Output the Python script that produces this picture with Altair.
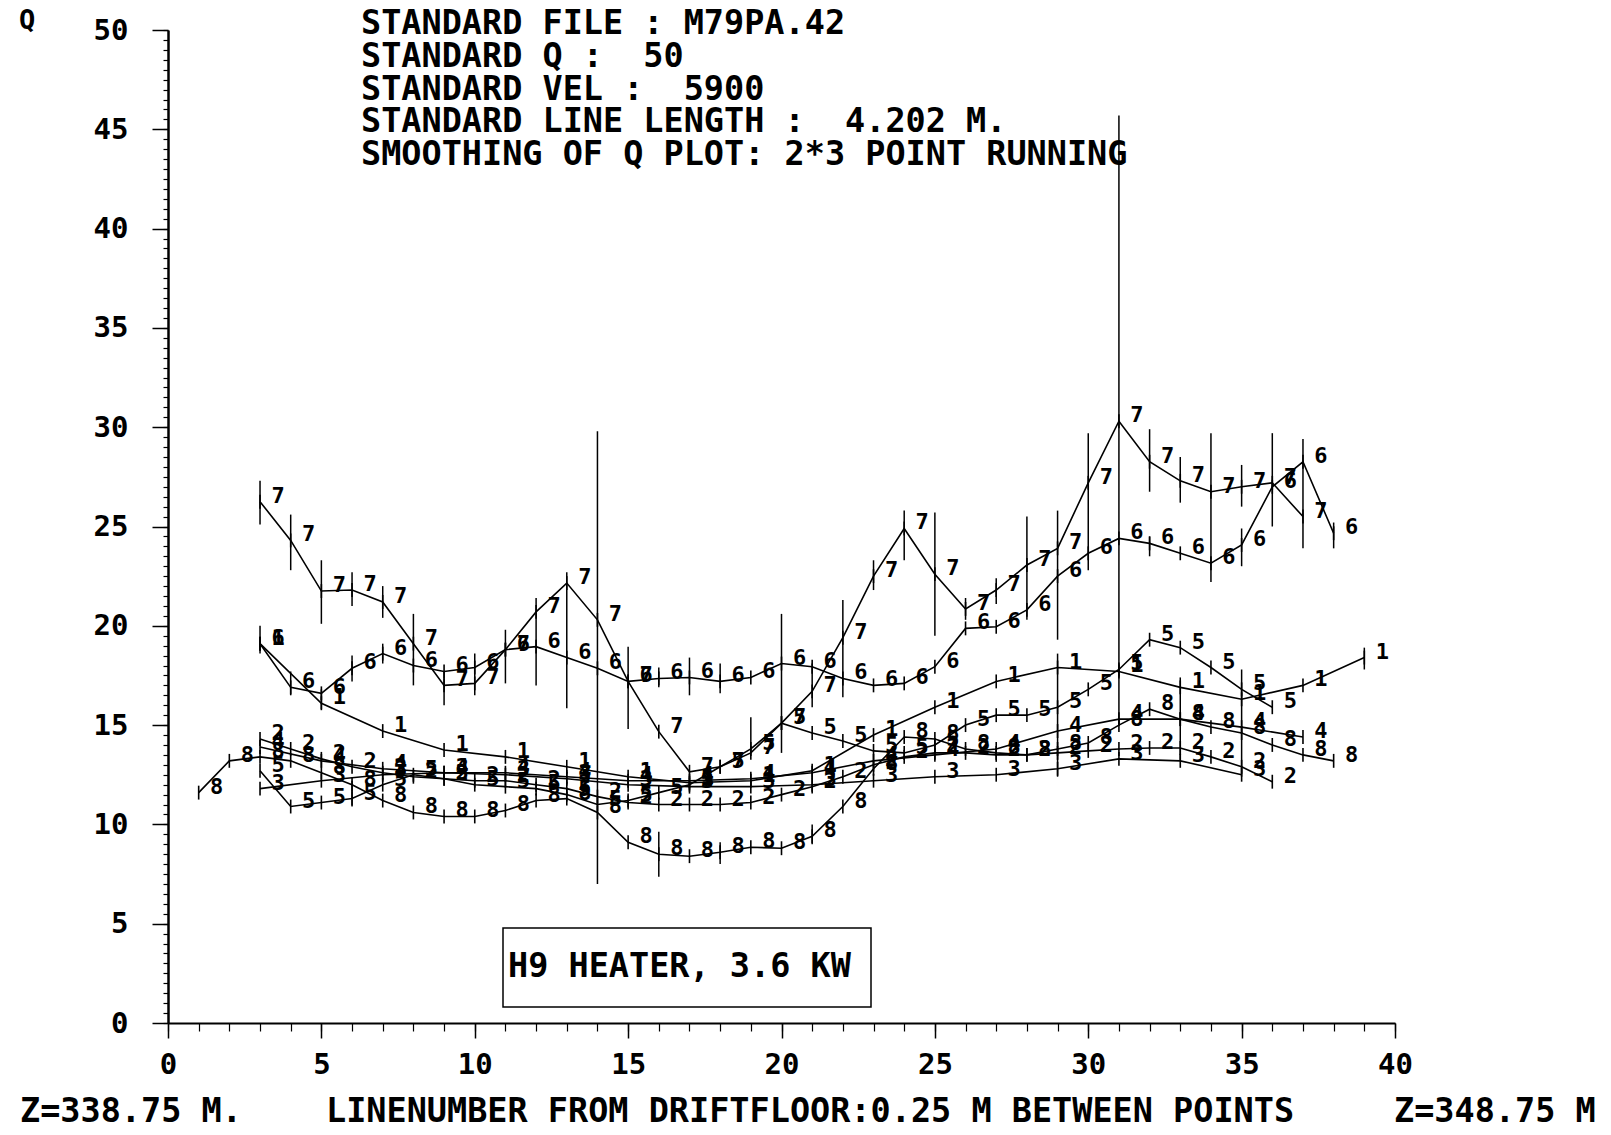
import altair as alt
import pandas as pd

FONT = "DejaVu Sans Mono"

# ---- series data (line number vs Q) ----
x1 = [3, 5, 7, 9, 11, 13, 15, 17, 19, 21, 23, 25, 27, 29, 31, 33, 35, 37, 39]
q1 = [19.1, 16.1, 14.7, 13.75, 13.4, 12.9, 12.4, 12.1, 12.2, 12.7, 14.5, 15.9, 17.2, 17.9, 17.7, 16.9, 16.3, 17.0, 18.4]

x2 = list(range(3, 37))
q2 = [14.3, 13.8, 13.3, 12.9, 12.6, 12.4, 12.3, 12.2, 12.2, 12.0, 11.8, 11.4, 11.1, 11.0, 11.0, 11.0, 11.1,
      11.5, 11.9, 12.4, 13.0, 13.4, 13.6, 13.6, 13.5, 13.5, 13.6, 13.7, 13.8, 13.85, 13.85, 13.4, 12.9, 12.15]

x3 = [3, 5, 7, 9, 11, 13, 15, 17, 19, 21, 23, 25, 27, 29, 31, 33, 35]
q3 = [11.8, 12.2, 12.5, 12.6, 12.5, 12.3, 12.0, 11.9, 11.9, 12.0, 12.2, 12.4, 12.5, 12.8, 13.3, 13.2, 12.5]

x4 = [3, 5, 7, 9, 11, 13, 15, 17, 19, 21, 23, 25, 27, 29, 31, 33, 35, 37]
q4 = [13.9, 13.2, 12.8, 12.6, 12.6, 12.4, 12.2, 12.2, 12.3, 12.6, 13.2, 13.5, 13.8, 14.7, 15.3, 15.3, 14.9, 14.4]

x5 = list(range(3, 37))
q5 = [12.7, 10.9, 11.1, 11.3, 12.0, 12.5, 12.3, 12.0, 11.9, 11.8, 11.5, 11.0, 11.2, 11.6, 12.0, 12.9, 13.8,
      15.1, 14.6, 14.2, 13.7, 13.6, 14.0, 15.0, 15.5, 15.5, 15.9, 16.8, 17.8, 19.3, 18.9, 17.9, 16.8, 15.9]

x6 = list(range(3, 39))
q6 = [19.1, 16.9, 16.6, 17.86, 18.6, 18.0, 17.7, 17.9, 18.8, 18.95, 18.4, 17.86, 17.2, 17.35, 17.4, 17.2,
      17.4, 18.1, 17.94, 17.35, 17.0, 17.1, 17.94, 19.87, 19.95, 20.8, 22.5, 23.65, 24.4, 24.15, 23.65,
      23.15, 24.07, 27.0, 28.26, 24.66]

x7 = list(range(3, 38))
q7 = [26.25, 24.3, 21.75, 21.8, 21.2, 19.1, 17.0, 17.1, 18.8, 20.7, 22.15, 20.3, 17.2, 14.67, 12.65, 12.9,
      13.6, 15.1, 16.7, 19.4, 22.5, 24.9, 22.6, 20.85, 21.8, 23.06, 23.9, 27.2, 30.3, 28.26, 27.3, 26.75,
      27.0, 27.2, 25.5]

x8 = list(range(1, 39))
q8 = [11.6, 13.2, 13.4, 13.2, 12.6, 12.0, 11.2, 10.6, 10.4, 10.4, 10.7, 11.2, 11.3, 10.6, 9.1, 8.5, 8.4,
      8.6, 8.85, 8.8, 9.4, 10.9, 12.8, 14.4, 14.3, 13.8, 13.6, 13.5, 13.8, 14.1, 15.0, 15.8, 15.3, 14.9,
      14.6, 14.0, 13.5, 13.2]

series_names = ["1", "2", "3", "4", "5", "6", "7", "8"]
series_x = [x1, x2, x3, x4, x5, x6, x7, x8]
series_q = [q1, q2, q3, q4, q5, q6, q7, q8]

# ---- error bars (line number, low Q, high Q) ----
eb_x = [3, 4, 5, 6, 7, 8, 9, 10, 11, 12, 13, 14, 15, 16, 17, 18, 19, 20, 21, 22, 23, 24, 25, 26, 27, 28,
        29, 30, 31, 32, 33, 34, 35, 36, 37, 38,
        3, 4, 5, 6, 7, 32, 35,
        16, 18, 21, 39, 6, 29, 33, 35]
eb_lo = [25.1, 22.8, 20.1, 21.0, 20.4, 17.0, 16.0, 16.5, 17.1, 17.0, 15.85, 7.0, 14.8, 16.9, 16.5, 16.6,
         13.6, 13.6, 15.9, 16.4, 21.8, 23.3, 19.5, 20.3, 21.1, 20.3, 19.3, 22.8, 15.0, 26.75, 26.2, 22.2,
         26.0, 25.0, 23.9, 23.9,
         18.6, 16.5, 15.8, 17.2, 18.1, 23.5, 23.0,
         7.37, 8.0, 9.0, 17.8, 10.9, 12.4, 13.2, 12.4]
eb_hi = [27.3, 25.6, 23.3, 22.7, 22.0, 20.6, 17.7, 18.6, 19.8, 21.4, 22.7, 29.8, 18.95, 17.9, 18.4, 18.1,
         15.4, 20.6, 18.1, 21.3, 23.3, 25.8, 25.7, 21.4, 22.4, 25.5, 25.8, 29.7, 45.7, 29.9, 28.5, 29.7,
         28.1, 29.7, 29.4, 25.2,
         20.0, 17.7, 16.8, 18.5, 19.1, 24.5, 24.9,
         9.63, 9.1, 10.0, 18.9, 12.2, 18.6, 17.4, 17.8]

NB = "\u00a0"
header_lines = [
    "STANDARD FILE : M79PA.42",
    "STANDARD Q :" + NB + NB + "50",
    "STANDARD VEL :" + NB + NB + "5900",
    "STANDARD LINE LENGTH :" + NB + NB + "4.202 M.",
    "SMOOTHING OF Q PLOT: 2*3 POINT RUNNING",
]
x_ticks_major = [0, 5, 10, 15, 20, 25, 30, 35, 40]
y_ticks_major = [0, 5, 10, 15, 20, 25, 30, 35, 40, 45, 50]
x_ticks_minor = list(range(0, 41))
y_ticks_minor = [i / 2 for i in range(0, 101)]

# ---- build tables ----
rows = []
for name, xs_, qs_ in zip(series_names, series_x, series_q):
    for xv, qv in zip(xs_, qs_):
        rows.append({"s": name, "x": xv, "q": qv})
df = pd.DataFrame(rows)
eb = pd.DataFrame({"x": eb_x, "lo": eb_lo, "hi": eb_hi})

xs = alt.Scale(domain=[0, 40], nice=False, zero=False)
ys = alt.Scale(domain=[0, 50], nice=False, zero=False)

major_x_axis = alt.Axis(values=x_ticks_major, tickSize=15, labelPadding=12, labelFontSize=29,
                        labelFont=FONT, labelFontWeight="bold", labelColor="black", title=None,
                        orient="bottom", domainColor="black", domainWidth=2, tickColor="black",
                        tickWidth=1.5, grid=False, labelFlush=False, format="d")
major_y_axis = alt.Axis(values=y_ticks_major, tickSize=16, labelPadding=24, labelFontSize=29,
                        labelFont=FONT, labelFontWeight="bold", labelColor="black", title=None,
                        orient="left", domainColor="black", domainWidth=2.5, tickColor="black",
                        tickWidth=1.5, grid=False, labelFlush=False, format="d")
minor_x_axis = alt.Axis(values=x_ticks_minor, tickSize=8, labels=False, domain=False, title=None,
                        orient="bottom", grid=False, tickColor="black", tickWidth=1.2)
minor_y_axis = alt.Axis(values=y_ticks_minor, tickSize=5, labels=False, domain=False, title=None,
                        orient="left", grid=False, tickColor="black", tickWidth=1.2)

lines = alt.Chart(df).mark_line(color="black", strokeWidth=1.6).encode(
    x=alt.X("x:Q", scale=xs, axis=major_x_axis),
    y=alt.Y("q:Q", scale=ys, axis=major_y_axis),
    detail="s:N",
    order="x:Q",
)

bars = alt.Chart(eb).mark_rule(color="black", strokeWidth=1.5).encode(
    x=alt.X("x:Q", scale=xs, axis=minor_x_axis),
    y=alt.Y("lo:Q", scale=ys, axis=minor_y_axis),
    y2="hi:Q",
)

ticks = alt.Chart(df).transform_calculate(
    lo="datum.q - 0.35", hi="datum.q + 0.35"
).mark_rule(color="black", strokeWidth=1.6).encode(
    x=alt.X("x:Q", scale=xs, axis=None),
    y=alt.Y("lo:Q", scale=ys, axis=None),
    y2="hi:Q",
)

labels = alt.Chart(df).mark_text(
    dx=18, dy=-6, font=FONT, fontSize=22, fontWeight="bold", color="black"
).encode(
    x=alt.X("x:Q", scale=xs, axis=None),
    y=alt.Y("q:Q", scale=ys, axis=None),
    text="s:N",
)

def txt(s, px, py, size=33.5, align="left", baseline="middle"):
    return alt.Chart(pd.DataFrame({"t": [s]})).mark_text(
        font=FONT, fontSize=size, fontWeight="bold", align=align, baseline=baseline, color="black"
    ).encode(text="t:N", x=alt.value(px), y=alt.value(py))

header = [txt(s, 193, -6 + 32.8 * i) for i, s in enumerate(header_lines)]

box = alt.Chart(pd.DataFrame({"k": [0]})).mark_rect(
    fill="white", stroke="black", strokeWidth=1.5
).encode(x=alt.value(335), x2=alt.value(703), y=alt.value(898), y2=alt.value(977))

extra = [
    txt("Q", -149, -9, size=27),
    txt("H9 HEATER, 3.6 KW", 340, 937),
    txt("Z=338.75 M.", -148, 1092, baseline="alphabetic"),
    txt("LINENUMBER FROM DRIFTFLOOR:0.25 M BETWEEN POINTS", 158, 1092, baseline="alphabetic"),
    txt("Z=348.75 M", 1226, 1092, baseline="alphabetic"),
]

chart = alt.layer(lines, bars, ticks, labels, box, *header, *extra).resolve_axis(
    x="independent", y="independent"
).properties(
    width=1227, height=993,
    autosize=alt.AutoSizeParams(type="none"),
    padding={"left": 160, "top": 22, "right": 200, "bottom": 101},
    background="white",
).configure_view(stroke=None)

chart.save("out.html", embed_options={"renderer": "svg", "actions": False})
